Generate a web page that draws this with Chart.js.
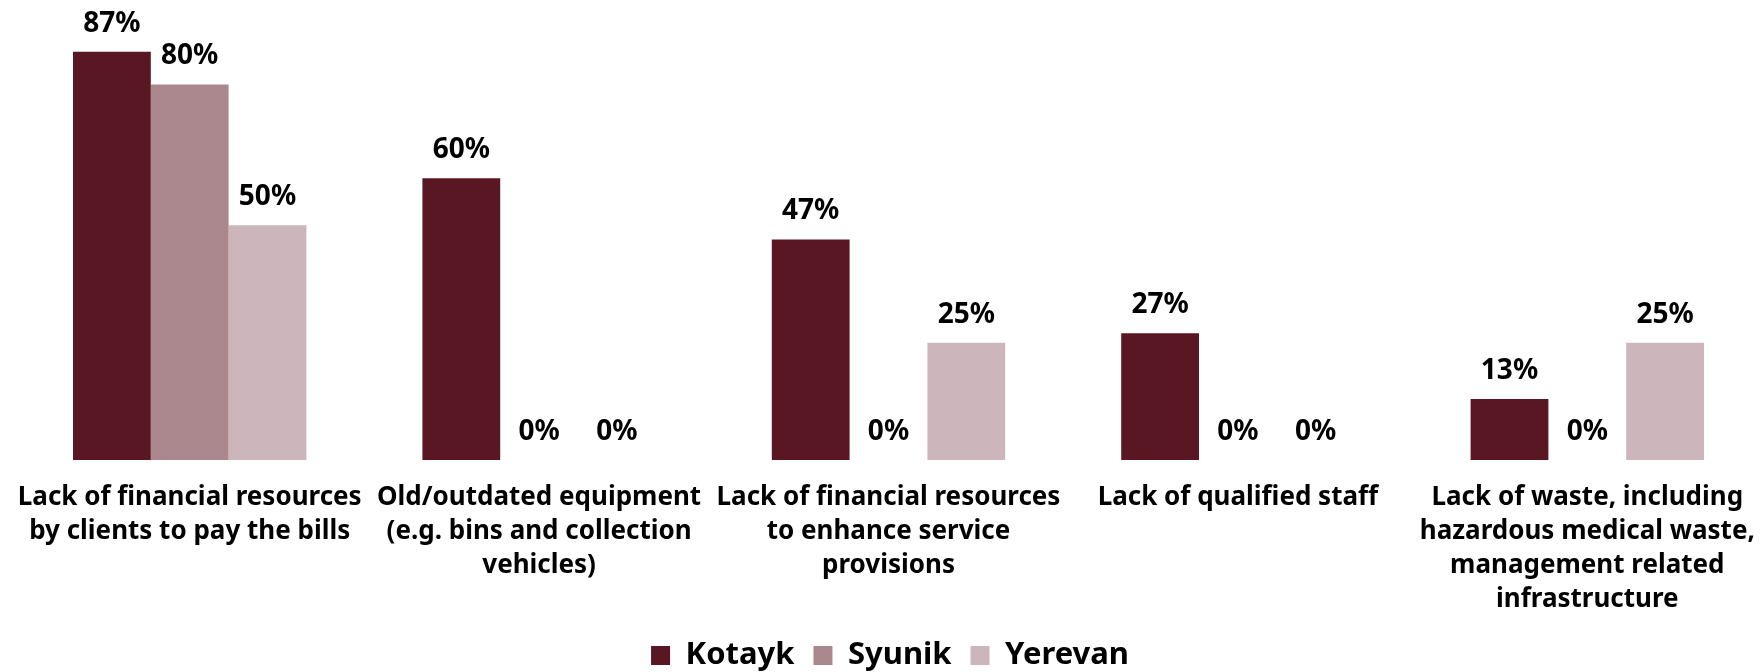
<!DOCTYPE html>
<html>
<head>
<meta charset="utf-8">
<script src="https://cdn.jsdelivr.net/npm/chart.js@4/dist/chart.umd.min.js"></script>
<style>
  html, body { margin: 0; padding: 0; background: #fff; }
  #wrap { width: 1762px; height: 672px; }
</style>
</head>
<body>
<div id="wrap"><canvas id="chart" width="1762" height="672"></canvas></div>
<script>
const categories = [
  ['Lack of financial resources', 'by clients to pay the bills'],
  ['Old/outdated equipment', '(e.g. bins and collection', 'vehicles)'],
  ['Lack of financial resources', 'to enhance service', 'provisions'],
  ['Lack of qualified staff'],
  ['Lack of waste, including', 'hazardous medical waste,', 'management related', 'infrastructure']
];
const kotayk = [87, 60, 47, 27, 13];
const syunik = [80, 0, 0, 0, 0];
const yerevan = [50, 0, 25, 0, 25];

const FONT = '"Noto Sans", "Open Sans", sans-serif';

// prints the percentage above each bar
const valueLabels = {
  id: 'valueLabels',
  afterDatasetsDraw(chart) {
    const ctx = chart.ctx;
    ctx.save();
    ctx.font = 'bold 28px ' + FONT;
    ctx.fillStyle = '#000';
    ctx.textAlign = 'center';
    ctx.textBaseline = 'alphabetic';
    chart.data.datasets.forEach((ds, i) => {
      chart.getDatasetMeta(i).data.forEach((bar, j) => {
        ctx.fillText(ds.data[j] + '%', bar.x, bar.y - 20);
      });
    });
    ctx.restore();
  }
};

new Chart(document.getElementById('chart'), {
  type: 'bar',
  data: {
    labels: categories,
    datasets: [
      { label: 'Kotayk', data: kotayk, backgroundColor: '#591724' },
      { label: 'Syunik', data: syunik, backgroundColor: '#aa888e' },
      { label: 'Yerevan', data: yerevan, backgroundColor: '#cdb6bb' }
    ]
  },
  options: {
    responsive: false,
    animation: false,
    layout: { autoPadding: false, padding: { left: 15, right: -3, top: 0, bottom: -9 } },
    datasets: {
      bar: { barPercentage: 1, categoryPercentage: 0.668 }
    },
    scales: {
      y: { display: false, min: 0, max: 98 },
      x: {
        grid: { display: false },
        border: { display: false },
        ticks: {
          color: '#000',
          font: { family: FONT, size: 26, weight: 'bold', lineHeight: 1.3 },
          padding: 13,
          maxRotation: 0,
          autoSkip: false
        },
        afterFit(scale) {
          scale.height = 161;
          scale.paddingLeft = 0;
          scale.paddingRight = 0;
        }
      }
    },
    plugins: {
      tooltip: { enabled: false },
      legend: {
        position: 'bottom',
        labels: {
          color: '#000',
          boxWidth: 19,
          boxHeight: 19,
          padding: 19,
          font: { family: FONT, size: 31, weight: 'bold' }
        }
      }
    }
  },
  plugins: [valueLabels]
});
</script>
</body>
</html>
